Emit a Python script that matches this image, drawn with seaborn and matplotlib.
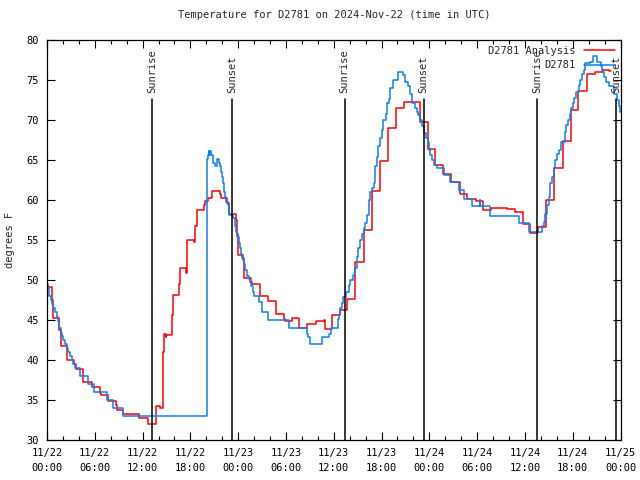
import seaborn as sns
import matplotlib.pyplot as plt
from matplotlib.ticker import MultipleLocator

# hours after 2024-11-22 00:00 UTC; each value holds until the next time (step data)
analysis_hours = [0.0, 0.59, 0.71, 1.55, 1.72, 2.55, 3.43, 3.6, 4.57, 5.6, 6.66, 6.8, 7.7, 8.6, 8.75,
                  9.6, 10.68, 11.6, 12.7, 13.65, 14.2, 14.6, 14.7, 14.9, 15.0, 15.7, 15.8, 16.63, 16.75,
                  17.45, 17.6, 18.5, 18.64, 18.8, 19.7, 19.85, 20.2, 20.7, 21.7, 21.8, 22.6, 22.8,
                  23.75, 23.85, 24.0, 24.6, 24.75, 25.6, 25.7, 26.8, 27.8, 28.7, 29.7, 29.85, 30.8,
                  31.7, 32.7, 33.8, 34.8, 34.9, 35.8, 36.8, 37.7, 38.7, 39.75, 40.8, 41.8, 42.8, 43.8,
                  44.8, 46.8, 47.8, 48.7, 49.7, 50.7, 51.8, 52.7, 53.8, 54.8, 55.8, 57.8, 58.8, 59.7,
                  60.6, 61.7, 62.7, 63.7, 64.8, 65.8, 66.7, 67.75, 68.8, 69.75, 70.6, 70.8]
analysis_temps = [49.1, 47.5, 45.3, 43.7, 41.8, 40.0, 39.5, 38.9, 37.2, 36.6, 35.9, 35.6, 34.9, 34.4, 33.8,
                  33.2, 33.3, 32.8, 32.0, 34.25, 34.0, 41.0, 43.3, 42.9, 43.1, 45.6, 48.1, 49.5, 51.5,
                  50.9, 55.0, 54.8, 56.8, 58.75, 59.4, 59.9, 60.3, 61.1, 60.75, 60.2, 59.6, 58.3,
                  57.5, 55.8, 53.1, 52.5, 50.3, 49.8, 49.5, 48.0, 47.4, 45.8, 45.1, 44.9, 45.2,
                  44.0, 44.5, 44.9, 45.0, 43.9, 45.6, 46.25, 47.6, 52.2, 56.3, 61.1, 64.9, 69.0, 71.5,
                  72.3, 69.7, 66.4, 64.4, 63.3, 62.2, 60.8, 60.1, 59.9, 58.8, 59.0, 58.9, 58.5, 57.0,
                  55.9, 56.6, 60.0, 64.0, 67.4, 71.3, 73.6, 75.75, 75.96, 76.2, 76.1, 76.1]

obs_hours = [0.0, 0.1, 0.29, 0.45, 0.67, 0.8, 1.0, 1.21, 1.38, 1.55, 1.72, 1.85, 2.05, 2.26, 2.55, 2.68,
             2.89, 3.1, 3.31, 3.56, 4.15, 5.1, 5.9, 7.5, 8.3, 9.59, 20.06, 20.2, 20.32, 20.4, 20.5,
             20.65, 20.9, 21.1, 21.3, 21.65, 21.78, 21.9, 22.03, 22.15, 22.28, 22.4, 22.53, 22.7,
             22.8, 22.9, 23.4, 23.55, 23.7, 23.9, 24.05, 24.2, 24.3, 24.45, 24.7, 24.8, 24.9, 25.05,
             25.3, 25.45, 25.6, 25.85, 25.95, 26.56, 27.0, 27.8, 30.4, 32.6, 32.8, 33.05, 34.5,
             35.35, 35.6, 36.5, 36.6, 36.8, 37.0, 37.2, 37.5, 37.9, 38.1, 38.4, 38.7, 38.9, 39.0,
             39.33, 39.54, 39.75, 39.96, 40.17, 40.4, 40.6, 40.8, 41.0, 41.2, 41.4, 41.6, 41.8,
             42.0, 42.2, 42.5, 42.7, 42.9, 43.1, 43.5, 44.06, 44.7, 45.0, 45.3, 45.6, 45.8, 46.2,
             46.4, 46.6, 46.8, 47.08, 47.3, 47.6, 47.8, 47.96, 48.1, 48.3, 48.6, 48.9, 49.8, 50.6,
             51.7, 52.3, 53.4, 54.3, 54.4, 55.6, 59.2, 60.5, 62.2, 62.4, 62.55, 62.8, 62.97, 63.2,
             63.4, 63.6, 63.8, 64.0, 64.3, 64.5, 64.97, 65.2, 65.4, 65.6, 65.8, 66.0, 66.2, 66.45,
             66.8, 66.97, 67.2, 67.4, 67.6, 68.2, 68.6, 69.1, 69.5, 69.7, 69.9, 70.2, 70.5, 71.2,
             71.5, 71.8, 71.9, 72.0]
obs_temps = [49.5, 49.0, 48.0, 47.5, 47.0, 46.5, 46.0, 45.4, 44.9, 44.0, 43.4, 43.0, 42.5, 42.0, 41.5, 41.0,
             40.5, 40.0, 39.5, 39.0, 38.0, 37.0, 36.0, 35.0, 34.0, 33.0, 65.1, 65.6, 66.1, 65.6, 66.1,
             65.6, 64.6, 64.2, 65.1, 64.6, 64.2, 63.5, 62.9, 62.1, 61.0, 60.4, 59.8, 59.4,
             58.75, 58.1, 57.7, 56.7, 56.0, 55.4, 54.6, 54.0, 53.3, 52.7, 52.0, 51.7, 51.25, 50.5,
             50.1, 49.7, 49.2, 48.5, 48.0, 47.3, 46.0, 45.0, 44.0, 43.3, 42.85, 42.0, 42.9,
             43.3, 44.0, 45.1, 45.6, 46.5, 47.1, 47.9, 48.5, 49.4, 50.0, 50.6, 51.5, 52.9, 54.0,
             55.0, 55.8, 56.5, 57.1, 58.1, 60.0, 61.0, 61.5, 62.1, 64.2, 65.4, 66.7, 67.7,
             68.75, 70.0, 70.8, 72.1, 72.6, 74.0, 75.0, 76.0, 75.6, 74.8, 74.2, 73.3, 72.1, 71.5,
             71.0, 70.6, 70.0, 69.2, 68.4, 67.7, 67.3, 66.25, 65.6, 65.0, 64.4, 64.0, 63.1, 62.2,
             61.25, 60.1, 59.2, 60.0, 59.2, 58.0, 57.1, 56.0, 56.7, 57.3, 58.3, 59.4, 60.4, 62.1,
             62.9, 64.0, 65.0, 65.8, 66.25, 67.3, 68.5, 69.4, 70.0, 70.8, 71.5, 72.1, 72.7, 73.5,
             74.4, 75.0, 75.8, 76.3, 77.1, 77.3, 78.0, 77.3, 76.75, 76.0, 75.4, 74.8, 74.2, 73.3,
             72.5, 71.7, 71.0, 71.0]

sun_hours = [13.23, 23.28, 37.36, 47.29, 61.53, 71.46]
sun_labels = ['Sunrise', 'Sunset', 'Sunrise', 'Sunset', 'Sunrise', 'Sunset']

tick_hours = list(range(0, 73, 6))
tick_labels = ['11/22\n00:00', '11/22\n06:00', '11/22\n12:00', '11/22\n18:00',
               '11/23\n00:00', '11/23\n06:00', '11/23\n12:00', '11/23\n18:00',
               '11/24\n00:00', '11/24\n06:00', '11/24\n12:00', '11/24\n18:00',
               '11/25\n00:00']

sns.set_theme(style='ticks')
plt.rcParams['font.family'] = ['DejaVu Sans Mono']
plt.rcParams['font.size'] = 7

fig = plt.figure(figsize=(6.4, 4.8), dpi=100)
ax = fig.add_axes([47 / 640, 40 / 480, 573.5 / 640, 400 / 480])

sns.lineplot(x=analysis_hours, y=analysis_temps, ax=ax, color='#ff0000', lw=1.1,
             drawstyle='steps-post', errorbar=None, label='D2781 Analysis')
sns.lineplot(x=obs_hours, y=obs_temps, ax=ax, color='#0a80f5', lw=1.1,
             drawstyle='steps-post', errorbar=None, label='D2781')

# sunrise / sunset markers
for h, lab in zip(sun_hours, sun_labels):
    ax.plot([h, h], [30, 72.6], color='black', lw=1.1)
    ax.text(h, 73.4, lab, rotation=90, ha='center', va='bottom', fontsize=7.5)

ax.set_xlim(0, 72)
ax.set_ylim(30, 80)
ax.set_xticks(tick_hours)
ax.set_xticklabels(tick_labels, linespacing=1.6)
ax.xaxis.set_minor_locator(MultipleLocator(2))
ax.yaxis.set_major_locator(MultipleLocator(5))
ax.tick_params(which='both', direction='in', top=True, right=True, width=0.8, colors='black',
               labelsize=7.5)
ax.tick_params(which='major', length=6)
ax.tick_params(which='minor', length=3)
ax.tick_params(axis='x', pad=6)
ax.tick_params(axis='y', pad=6)
for s in ax.spines.values():
    s.set_color('black')
    s.set_linewidth(0.9)

ax.set_xlabel('')
ax.set_ylabel('')
fig.text(10 / 640, 0.5, 'degrees F', rotation=90, ha='center', va='center', fontsize=7.5)
ax.set_title('Temperature for D2781 on 2024-Nov-22 (time in UTC)', fontsize=7.5, pad=16)

ax.legend(loc='upper right', bbox_to_anchor=(1.0, 1.0), frameon=False, markerfirst=False,
          handlelength=3.0, handletextpad=0.8, labelspacing=0.45, fontsize=7.5,
          borderaxespad=0.15)

fig.savefig('out.png', dpi=100)
